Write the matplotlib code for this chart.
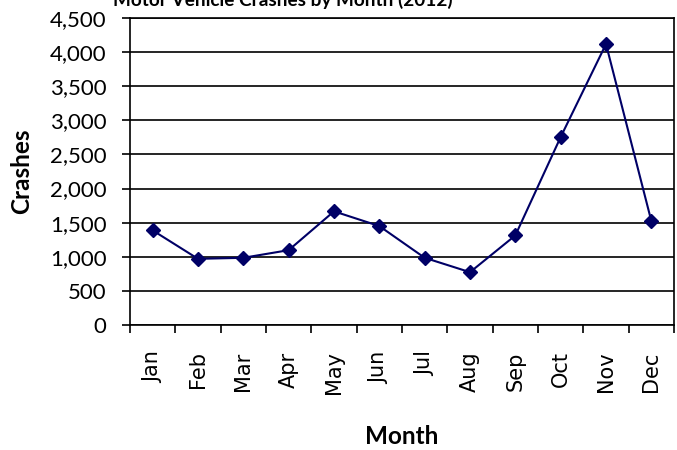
import matplotlib
matplotlib.use("Agg")
import matplotlib.pyplot as plt
import numpy as np
from matplotlib.ticker import FuncFormatter, FixedLocator

months = ["Jan", "Feb", "Mar", "Apr", "May", "Jun", "Jul", "Aug", "Sep", "Oct", "Nov", "Dec"]
crashes = [1387, 970, 985, 1097, 1666, 1450, 985, 774, 1313, 2755, 4118, 1524]
yticks = [0, 500, 1000, 1500, 2000, 2500, 3000, 3500, 4000, 4500]

plt.rcParams['font.family'] = ['Lato', 'DejaVu Sans']

W, H = 677, 450
fig = plt.figure(figsize=(W / 100, H / 100), dpi=100)
left, right, top, bottom = 130, 674, 18, 325
ax = fig.add_axes([left / W, 1 - bottom / H, (right - left) / W, (bottom - top) / H])

x = np.arange(len(months))
ax.plot(x, crashes, color="#000066", lw=1.5, marker="D", markersize=7, zorder=3, clip_on=False)

ax.set_xlim(-0.5, len(months) - 0.5)
ax.set_ylim(0, 4500)
ax.set_yticks(yticks)
ax.yaxis.set_major_formatter(FuncFormatter(lambda v, p: f"{int(v):,}"))
ax.grid(axis="y", color="black", lw=1.2)
ax.set_axisbelow(True)

ax.set_xticks(x)
ax.set_xticklabels(months, rotation=90, fontsize=15, family=["DejaVu Sans"])
ax.xaxis.set_minor_locator(FixedLocator(np.arange(-0.5, len(months), 1.0)))
ax.tick_params(axis="x", which="major", length=0, pad=19)
ax.tick_params(axis="x", which="minor", length=6, width=1.2, direction="out")
ax.tick_params(axis="y", which="major", length=6, width=1.2, direction="out", labelsize=16, pad=11)

for s in ax.spines.values():
    s.set_linewidth(1.2)
    s.set_color("black")

fig.text(22 / W, 1 - (top + bottom) / 2 / H, "Crashes", fontsize=17.5, fontweight="bold",
         rotation=90, ha="center", va="center")
fig.text((left + right) / 2 / W, 1 - 437 / H, "Month", fontsize=17.5, fontweight="bold", ha="center", va="center")
fig.text(283 / W, 1 - 6 / H, "Motor Vehicle Crashes by Month (2012)", fontsize=13.7, fontweight="bold",
         ha="center", va="baseline")

fig.savefig("out.png", dpi=100)
